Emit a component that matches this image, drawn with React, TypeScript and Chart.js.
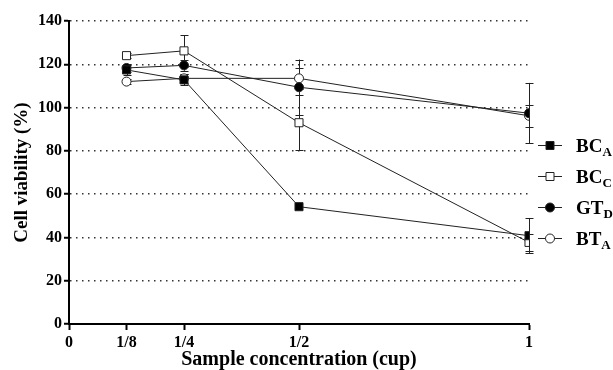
import React, { useEffect, useRef } from "react";
import { Chart, registerables } from "chart.js";

Chart.register(...registerables);

const concentrations = [0.125, 0.25, 0.5, 1];
const xTickValues = [0, 0.125, 0.25, 0.5, 1];
const xTickLabels = ["0", "1/8", "1/4", "1/2", "1"];

const seriesNames = ["BC", "BC", "GT", "BT"];
const seriesSubs = ["A", "C", "D", "A"];

const bcA = [117.4, 112.8, 54.2, 40.8];
const bcAErr = [2.5, 2.5, 0, 8.2];
const bcC = [124.0, 126.2, 93.0, 37.7];
const bcCErr = [1.0, 7.3, 12.6, 4.0];
const gtD = [118.3, 119.5, 109.4, 97.4];
const gtDErr = [2.0, 2.5, 12.8, 14.0];
const btA = [112.0, 113.5, 113.5, 96.2];
const btAErr = [1.0, 2.0, 5.0, 5.0];

const FONT = "'Liberation Serif', 'Times New Roman', serif";
const INK = "#222";

const errorBarPlugin = {
  id: "errorBars",
  beforeDatasetsDraw(chart: any) {
    const ctx = chart.ctx;
    const xs = chart.scales.x;
    const ys = chart.scales.y;
    ctx.save();
    ctx.strokeStyle = INK;
    ctx.lineWidth = 1;
    chart.data.datasets.forEach((ds: any) => {
      const errs: number[] = ds.errors || [];
      ds.data.forEach((p: any, i: number) => {
        const e = errs[i];
        if (!e) return;
        const x = Math.round(xs.getPixelForValue(p.x)) + 0.5;
        const yTop = ys.getPixelForValue(p.y + e);
        const yBot = ys.getPixelForValue(p.y - e);
        ctx.beginPath();
        ctx.moveTo(x, yTop);
        ctx.lineTo(x, yBot);
        ctx.moveTo(x - 4, Math.round(yTop) + 0.5);
        ctx.lineTo(x + 4, Math.round(yTop) + 0.5);
        ctx.moveTo(x - 4, Math.round(yBot) + 0.5);
        ctx.lineTo(x + 4, Math.round(yBot) + 0.5);
        ctx.stroke();
      });
    });
    ctx.restore();
  },
};

const legendPlugin = {
  id: "customLegend",
  afterDraw(chart: any) {
    const ctx = chart.ctx;
    const area = chart.chartArea;
    const baseX = area.right + 21;
    const baseY = area.top + 124;
    ctx.save();
    chart.data.datasets.forEach((ds: any, i: number) => {
      const y = baseY + i * 31;
      ctx.strokeStyle = INK;
      ctx.lineWidth = 1;
      ctx.beginPath();
      ctx.moveTo(baseX - 12, y + 0.5);
      ctx.lineTo(baseX + 12, y + 0.5);
      ctx.stroke();
      ctx.fillStyle = ds.pointBackgroundColor;
      ctx.strokeStyle = INK;
      ctx.beginPath();
      if (ds.pointStyle === "rect") {
        ctx.rect(baseX - 4, y - 3.5, 8, 8);
      } else {
        ctx.arc(baseX, y + 0.5, 4.5, 0, Math.PI * 2);
      }
      ctx.fill();
      ctx.stroke();
      ctx.fillStyle = "#000";
      ctx.textBaseline = "alphabetic";
      ctx.textAlign = "left";
      ctx.font = `bold 19px ${FONT}`;
      const tx = baseX + 26;
      ctx.fillText(seriesNames[i], tx, y + 7);
      const w = ctx.measureText(seriesNames[i]).width;
      ctx.font = `bold 13px ${FONT}`;
      ctx.fillText(seriesSubs[i], tx + w, y + 11);
    });
    ctx.restore();
  },
};

function makeData(vals: number[]) {
  return vals.map((v, i) => ({ x: concentrations[i], y: v }));
}

export default function App() {
  const ref = useRef<HTMLCanvasElement | null>(null);
  useEffect(() => {
    if (!ref.current) return;
    const common = {
      borderColor: INK,
      borderWidth: 1,
      pointBorderColor: INK,
      pointBorderWidth: 1,
      showLine: true,
      tension: 0,
    };
    const chart = new Chart(ref.current, {
      type: "line",
      data: {
        datasets: [
          { ...common, label: "BCA", data: makeData(bcA), errors: bcAErr, pointStyle: "rect", pointRadius: 5.7, pointBackgroundColor: "#000" } as any,
          { ...common, label: "BCC", data: makeData(bcC), errors: bcCErr, pointStyle: "rect", pointRadius: 5.7, pointBackgroundColor: "#fff" } as any,
          { ...common, label: "GTD", data: makeData(gtD), errors: gtDErr, pointStyle: "circle", pointRadius: 4.5, pointBackgroundColor: "#000" } as any,
          { ...common, label: "BTA", data: makeData(btA), errors: btAErr, pointStyle: "circle", pointRadius: 4.5, pointBackgroundColor: "#fff" } as any,
        ],
      },
      options: {
        animation: false,
        responsive: false,
        maintainAspectRatio: false,
        layout: { padding: { left: 0, top: 21, right: 84, bottom: 0 } },
        plugins: { legend: { display: false }, tooltip: { enabled: false } },
        scales: {
          x: {
            type: "linear",
            min: 0,
            max: 1,
            afterBuildTicks: (scale: any) => {
              scale.ticks = xTickValues.map((v) => ({ value: v }));
            },
            afterFit: (scale: any) => {
              scale.height = 46;
            },
            ticks: {
              autoSkip: false,
              maxRotation: 0,
              padding: 3,
              color: "#000",
              font: { family: FONT, size: 16, weight: "bold" },
              callback: (v: any) => {
                const idx = xTickValues.indexOf(Number(v));
                return idx >= 0 ? xTickLabels[idx] : "";
              },
            },
            grid: {
              drawOnChartArea: false,
              drawTicks: true,
              tickLength: 6,
              tickColor: "#000",
              tickWidth: 2,
            },
            border: { display: true, color: "#000", width: 2 },
            title: {
              display: true,
              text: "Sample concentration (cup)",
              color: "#000",
              font: { family: FONT, size: 20, weight: "bold" },
              padding: { top: 0, bottom: -2 },
            },
          },
          y: {
            min: 0,
            max: 140,
            afterFit: (scale: any) => {
              scale.width = 69;
            },
            ticks: {
              stepSize: 20,
              padding: 2,
              color: "#000",
              font: { family: FONT, size: 16, weight: "bold" },
            },
            grid: {
              color: (c: any) => (c.tick && c.tick.value === 0 ? "rgba(0,0,0,0)" : "#333"),
              lineWidth: 1.5,
              drawTicks: true,
              tickLength: 5,
              tickColor: "#000",
              tickWidth: 2,
              tickBorderDash: [],
            },
            border: { display: true, color: "#000", width: 2, dash: [1.5, 4.5] },
            title: {
              display: true,
              text: "Cell viability (%)",
              color: "#000",
              font: { family: FONT, size: 19, weight: "bold" },
              padding: { top: 11, bottom: 0 },
            },
          },
        },
      } as any,
      plugins: [errorBarPlugin, legendPlugin],
    });
    return () => chart.destroy();
  }, []);
  return (
    <div style={{ position: "fixed", left: 0, top: 0, width: 613, height: 370, background: "#fff" }}>
      <canvas ref={ref} width={613} height={370} style={{ display: "block" }} />
    </div>
  );
}
